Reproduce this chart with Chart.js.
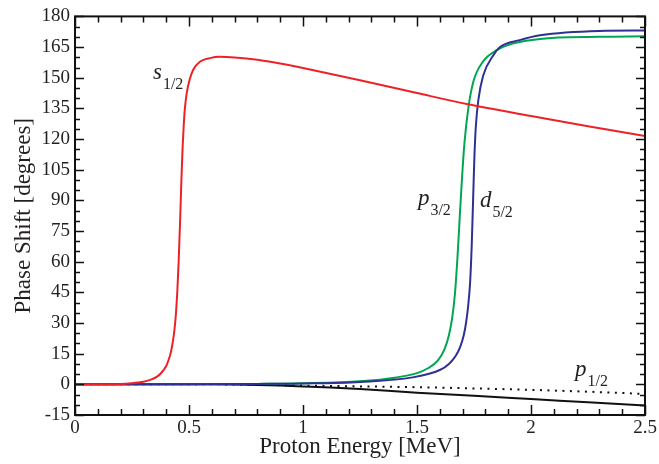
<!DOCTYPE html>
<html><head><meta charset="utf-8">
<script src="https://cdn.jsdelivr.net/npm/chart.js@4"></script>
<style>html,body{margin:0;padding:0;background:#fff}</style>
</head><body>
<canvas id="c" width="659" height="464"></canvas>
<script>
// ---- data ----
const s12X = [0, 0.15, 0.22, 0.3, 0.33, 0.36, 0.38, 0.40, 0.41, 0.42, 0.43, 0.437, 0.443, 0.449, 0.455, 0.461, 0.467, 0.472, 0.477, 0.482, 0.49, 0.504, 0.519, 0.548, 0.592, 0.636, 0.7, 0.8, 0.9, 1.0, 1.25, 1.5, 1.724, 2.0, 2.25, 2.5];
const s12Y = [0, 0, 0.3, 1.3, 2.2, 3.8, 5.8, 9, 11.8, 15.5, 21.5, 27.5, 35, 46, 61, 80, 101, 116, 127, 135, 142.5, 149.5, 154, 157.8, 159.6, 160.2, 159.9, 158.8, 157, 154.8, 148.8, 142.5, 137, 131.3, 126.3, 121.5];

const p32X = [0, 0.5, 0.8, 1.0, 1.25, 1.41, 1.5, 1.55, 1.59, 1.62, 1.64, 1.655, 1.667, 1.678, 1.688, 1.698, 1.708, 1.725, 1.747, 1.79, 1.85, 1.92, 2.04, 2.3, 2.5];
const p32Y = [0, 0, 0.2, 0.5, 1.5, 3.4, 5.5, 8, 11.5, 17, 24, 33, 45, 63, 83, 102, 118, 135, 148, 158, 163.5, 166.7, 169, 170, 170.3];

const d52X = [0, 0.5, 0.8, 1.0, 1.25, 1.48, 1.60, 1.64, 1.67, 1.69, 1.705, 1.715, 1.725, 1.733, 1.74, 1.746, 1.752, 1.758, 1.769, 1.79, 1.835, 1.864, 1.95, 2.04, 2.3, 2.5];
const d52Y = [0, 0, 0.2, 0.4, 1.2, 3.4, 7, 10, 14, 18.5, 24, 30, 39, 50, 68, 90, 112, 126, 139, 151, 161, 165, 168.4, 170.8, 172.9, 173.1];

const p12X = [0, 0.6, 0.9, 1.0, 1.25, 1.5, 1.75, 2.0, 2.25, 2.5];
const p12Y = [0, 0, -0.4, -0.6, -1.0, -1.4, -2.0, -2.7, -3.6, -4.7];

const solidX = [0, 0.6, 0.8, 0.9, 1.0, 1.12, 1.25, 1.5, 1.75, 2.0, 2.25, 2.5];
const solidY = [0, 0, -0.3, -0.6, -1.0, -1.5, -2.3, -4.1, -5.6, -7.2, -8.8, -10.4];

const xRange = [0, 2.5];
const yRange = [-15, 180];
const xMajorStep = 0.5, xMinorStep = 0.1;
const yMajorStep = 15, yMinorStep = 5;

const curveLabels = [
  {main: 's', sub: '1/2', x: 0.342, y: 149.5},
  {main: 'p', sub: '3/2', x: 1.504, y: 87.9},
  {main: 'd', sub: '5/2', x: 1.776, y: 87},
  {main: 'p', sub: '1/2', x: 2.193, y: 3.9}
];

const pts = (xs, ys) => xs.map((x, i) => ({x: x, y: ys[i]}));
const SERIF = '"Liberation Serif", "DejaVu Serif", serif';
const TXT = '#231f20';

const frameTicks = {
  id: 'frameTicks',
  afterDraw(chart) {
    const {ctx, chartArea: a, scales} = chart;
    const xs = scales.x, ys = scales.y;
    ctx.save();
    ctx.strokeStyle = '#111';
    ctx.lineWidth = 1.5;
    const eps = 1e-6;
    ctx.beginPath();
    for (let v = xRange[0]; v <= xRange[1] + eps; v += xMinorStep) {
      const r = Math.round(v * 10) / 10;
      const major = Math.abs(r / xMajorStep - Math.round(r / xMajorStep)) < 1e-6;
      const L = major ? 10 : 6;
      const p = Math.round(xs.getPixelForValue(r)) + 0.5;
      ctx.moveTo(p, a.bottom); ctx.lineTo(p, a.bottom - L);
      ctx.moveTo(p, a.top); ctx.lineTo(p, a.top + L);
    }
    for (let v = yRange[0]; v <= yRange[1] + eps; v += yMinorStep) {
      const major = (v - yRange[0]) % yMajorStep === 0;
      const L = major ? 9 : 5;
      const p = Math.round(ys.getPixelForValue(v)) + 0.5;
      ctx.moveTo(a.left, p); ctx.lineTo(a.left + L, p);
      ctx.moveTo(a.right, p); ctx.lineTo(a.right - L, p);
    }
    ctx.stroke();
    ctx.lineWidth = 2;
    ctx.strokeStyle = '#111';
    ctx.strokeRect(a.left, a.top, a.right - a.left, a.bottom - a.top);

    // curve labels
    ctx.fillStyle = TXT;
    ctx.textBaseline = 'alphabetic';
    ctx.textAlign = 'left';
    curveLabels.forEach(l => {
      const px = xs.getPixelForValue(l.x), py = ys.getPixelForValue(l.y);
      ctx.font = 'italic 23px ' + SERIF;
      ctx.fillText(l.main, px, py);
      const w = ctx.measureText(l.main).width;
      ctx.font = '16px ' + SERIF;
      ctx.fillText(l.sub, px + w + 1, py + 10);
    });
    ctx.restore();
  }
};

const line = (label, xs, ys, color, extra) => Object.assign({
  label: label, data: pts(xs, ys), borderColor: color, borderWidth: 2,
  pointRadius: 0, cubicInterpolationMode: 'monotone', fill: false
}, extra || {});

new Chart(document.getElementById('c'), {
  type: 'line',
  data: {
    datasets: [
      line('s1/2', s12X, s12Y, '#ec2227'),
      line('d5/2', d52X, d52Y, '#2e3192'),
      line('p3/2', p32X, p32Y, '#00a651'),
      line('p1/2', p12X, p12Y, '#111', {borderDash: [2, 5.5]}),
      line('solid', solidX, solidY, '#111')
    ]
  },
  options: {
    responsive: false,
    devicePixelRatio: 1,
    animation: false,
    layout: {padding: {top: 15, right: 14, left: 0, bottom: 0}},
    plugins: {legend: {display: false}, tooltip: {enabled: false}},
    scales: {
      x: {
        type: 'linear', min: xRange[0], max: xRange[1],
        ticks: {stepSize: xMajorStep, font: {family: SERIF, size: 19}, color: TXT, padding: 2, maxRotation: 0,
                callback: v => String(Math.round(v * 10) / 10)},
        grid: {display: false, drawTicks: false},
        border: {display: false},
        title: {display: true, text: 'Proton Energy [MeV]', font: {family: SERIF, size: 23}, color: TXT, padding: {top: 0, bottom: 3}},
        afterFit(s) { s.height = 49; }
      },
      y: {
        type: 'linear', min: yRange[0], max: yRange[1],
        ticks: {stepSize: yMajorStep, font: {family: SERIF, size: 19}, color: TXT, padding: 5,
                callback: v => String(v)},
        grid: {display: false, drawTicks: false},
        border: {display: false},
        title: {display: true, text: 'Phase Shift [degrees]', font: {family: SERIF, size: 23}, color: TXT, padding: {top: 10, bottom: 0}},
        afterFit(s) { s.width = 75; }
      }
    }
  },
  plugins: [frameTicks]
});
</script>
</body></html>
